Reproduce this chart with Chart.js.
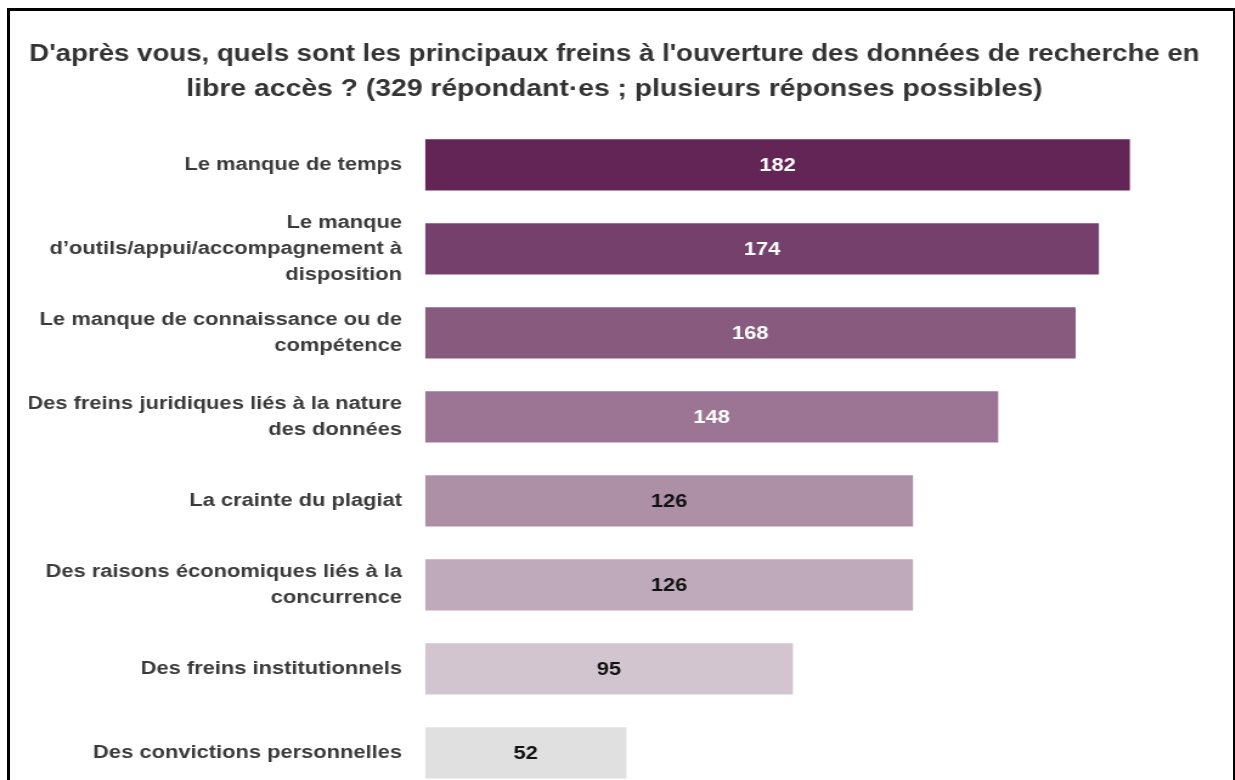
<!DOCTYPE html>
<html>
<head>
<meta charset="utf-8">
<script src="https://cdn.jsdelivr.net/npm/chart.js@4"></script>
<style>
    html, body { margin: 0; padding: 0; background: #fff; overflow: hidden; }
    #wrap { position: relative; width: 1235px; height: 780px; overflow: hidden; }
    /* the reference picture is stretched sideways, so the canvas is too */
    #stretch { position: absolute; left: 0; top: 0; transform: scaleX(1.2154); transform-origin: 0 0; }
    #frame {
        position: absolute; left: 7px; top: 8px; width: 1223px; height: 820px;
        border-left: 3px solid #000; border-top: 3px solid #000; border-right: 2px solid #000;
        pointer-events: none;
    }
</style>
</head>
<body>
<div id="wrap">
    <div id="stretch"><canvas id="freins" width="1016" height="827"></canvas></div>
    <div id="frame"></div>
</div>
<script>
    const titleLines = [
        "D'après vous, quels sont les principaux freins à l'ouverture des données de recherche en",
        "libre accès ? (329 répondant·es ; plusieurs réponses possibles)"
    ]

    const categories = [
        "Le manque de temps",
        ["Le manque", "d’outils/appui/accompagnement à", "disposition"],
        ["Le manque de connaissance ou de", "compétence"],
        ["Des freins juridiques liés à la nature", "des données"],
        "La crainte du plagiat",
        ["Des raisons économiques liés à la", "concurrence"],
        "Des freins institutionnels",
        "Des convictions personnelles"
    ]

    const counts = [182, 174, 168, 148, 126, 126, 95, 52]

    const barColors = ['#632456', '#76406c', '#885a7e', '#9d7594', '#ad8fa6', '#bfaabb', '#d3c5cf', '#e0e0e0']
    const valueColors = ['#fff', '#fff', '#fff', '#fff', '#111', '#111', '#111', '#111']

    const fontFamily = '"Liberation Sans", Arial, sans-serif'

    // draws the count in the middle of each bar
    const valueLabels = {
        id: 'valueLabels',
        afterDatasetsDraw(chart) {
            const ctx = chart.ctx
            const meta = chart.getDatasetMeta(0)
            ctx.save()
            ctx.font = `bold 18px ${fontFamily}`
            ctx.textAlign = 'center'
            ctx.textBaseline = 'middle'
            meta.data.forEach((bar, i) => {
                ctx.fillStyle = valueColors[i]
                ctx.fillText(counts[i], (bar.x + bar.base) / 2, bar.y + 1)
            })
            ctx.restore()
        }
    }

    const ctx = document.querySelector('#freins').getContext('2d')

    new Chart(ctx, {
        type: 'bar',
        data: {
            labels: categories,
            datasets: [{
                data: counts,
                backgroundColor: barColors,
                borderWidth: 0,
                barPercentage: 0.61,
                categoryPercentage: 1
            }]
        },
        options: {
            indexAxis: 'y',
            responsive: false,
            animation: false,
            layout: { padding: { left: 24, right: 29, top: 0, bottom: 15.5 } },
            plugins: {
                legend: { display: false },
                tooltip: { enabled: false },
                title: {
                    display: true,
                    text: titleLines,
                    color: '#333',
                    font: { family: fontFamily, size: 23.3, weight: 'bold', lineHeight: 1.5 },
                    padding: { top: 37, bottom: 16 }
                }
            },
            scales: {
                x: {
                    display: false,
                    min: 0,
                    max: 200
                },
                y: {
                    grid: { display: false, drawTicks: false },
                    border: { display: false },
                    afterFit: (scale) => { scale.width = 325.7 },
                    ticks: {
                        color: '#3a3a3a',
                        padding: 19,
                        font: { family: fontFamily, size: 18, weight: 'bold', lineHeight: 1.45 }
                    }
                }
            }
        },
        plugins: [valueLabels]
    })
</script>
</body>
</html>
